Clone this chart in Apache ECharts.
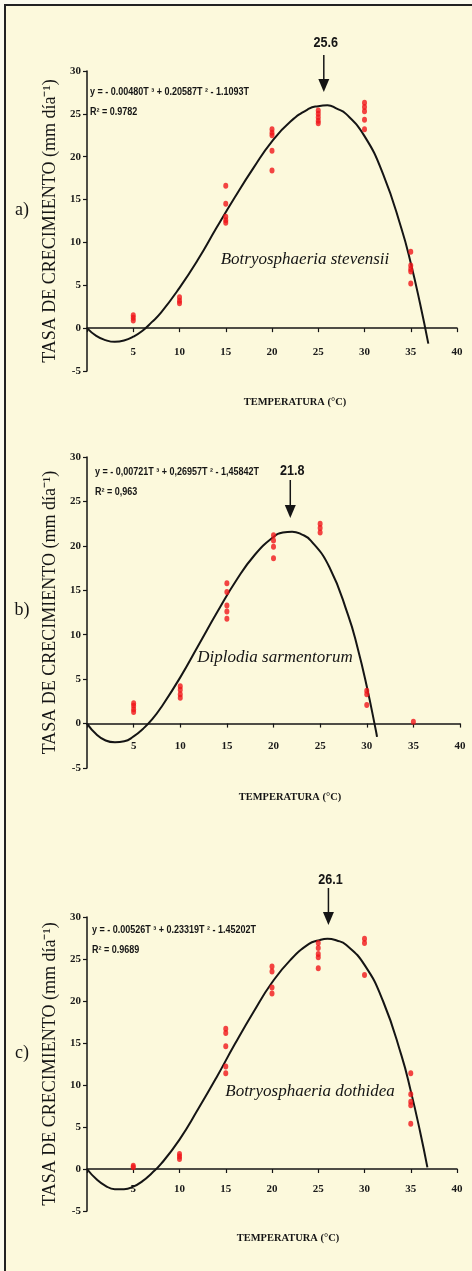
<!DOCTYPE html>
<html><head><meta charset="utf-8">
<script src="https://cdn.jsdelivr.net/npm/echarts@6/dist/echarts.min.js"></script>
<style>html,body{margin:0;padding:0;background:#fff}#c{width:472px;height:1271px}</style>
</head><body><div id="c"></div><script>
// ---- data ----
const xTicks = [0, 5, 10, 15, 20, 25, 30, 35, 40];
const yTicks = [-5, 0, 5, 10, 15, 20, 25, 30];

// Panel a) Botryosphaeria stevensii
const curveTA = [0,1,2,3,4,5,6,7,8,10,12,14,16,18,20,22,24,25,26,27,28,30,32,34,35,36,36.9];
const curveYA = [0,-0.9,-1.4,-1.6,-1.45,-1.0,-0.3,0.7,1.8,4.7,8.0,11.7,15.3,18.7,21.8,24.1,25.6,25.9,26.0,25.6,25.0,22.4,18.0,11.6,7.6,2.9,-1.8];
const obsTA = [5,5,5,10,10,10,15,15,15,15,15,20,20,20,20,20,25,25,25,25,25,30,30,30,30,30,35,35,35,35,35];
const obsYA = [0.9,1.2,1.5,2.9,3.2,3.6,16.6,14.5,13.0,12.6,12.3,23.2,22.8,22.5,20.7,18.4,25.4,25.0,24.6,24.2,23.9,26.3,25.8,25.3,24.3,23.2,8.9,7.3,6.9,6.6,5.2];

// Panel b) Diplodia sarmentorum
const curveTB = [0,1,2,3,4,5,6,7,8,10,12,14,16,18,20,21,22,23,24,26,28,29,30,31,31.1];
const curveYB = [0,-1.2,-1.9,-2.1,-2.0,-1.45,-0.6,0.5,1.9,5.2,8.9,12.6,16.1,19.0,21.0,21.5,21.6,21.3,20.6,17.6,12.2,8.6,4.2,-0.9,-1.5];
const obsTB = [5,5,5,5,10,10,10,10,15,15,15,15,15,20,20,20,20,25,25,25,30,30,30,35];
const obsYB = [1.3,1.6,2.0,2.3,2.9,3.3,3.8,4.2,15.8,14.8,13.3,12.6,11.8,21.2,20.6,19.9,18.6,22.5,22.0,21.5,3.7,3.3,2.1,0.2];

// Panel c) Botryosphaeria dothidea
const curveTC = [0,1,2,3,4,5,6,7,8,10,12,14,16,18,20,22,24,25,26,27,28,30,32,34,35,36,36.8];
const curveYC = [0,-1.2,-2.0,-2.4,-2.4,-2.1,-1.45,-0.5,0.6,3.5,7.1,10.9,14.9,18.7,22.2,24.9,26.8,27.2,27.4,27.2,26.7,24.3,20.0,13.5,9.3,4.5,0.2];
const obsTC = [5,5,10,10,10,15,15,15,15,15,20,20,20,20,25,25,25,25,25,30,30,30,35,35,35,35,35];
const obsYC = [0.2,0.4,1.2,1.5,1.8,16.7,16.2,14.6,12.2,11.4,24.1,23.5,21.6,20.9,26.9,26.3,25.6,25.2,23.9,27.4,26.9,23.1,11.4,8.9,8.0,7.6,5.4];

const peakT = [25.6, 21.8, 26.1];
const peakLabels = ['25.6', '21.8', '26.1'];
const panelLetters = ['a)', 'b)', 'c)'];
const species = ['Botryosphaeria stevensii', 'Diplodia sarmentorum', 'Botryosphaeria dothidea'];
const equations = [
  'y = - 0.00480T \u00B3 + 0.20587T \u00B2 - 1.1093T',
  'y = - 0,00721T \u00B3 + 0,26957T \u00B2 - 1,45842T',
  'y = - 0.00526T \u00B3 + 0.23319T \u00B2 - 1.45202T'
];
const r2 = ['R\u00B2 = 0.9782', 'R\u00B2 = 0,963', 'R\u00B2 = 0.9689'];
const xTitle = 'TEMPERATURA (\u00B0C)';
const yTitle = 'TASA DE CRECIMIENTO (mm d\u00EDa\u207B\u00B9)';

const curves = [[curveTA, curveYA], [curveTB, curveYB], [curveTC, curveYC]];
const obs = [[obsTA, obsYA], [obsTB, obsYB], [obsTC, obsYC]];

// ---- layout (pixels) ----
const layout = [
  {grid:{left:87,right:15,top:71,height:300}, lm:-24, letter:[22,210], eq:[90,92,112], xt:[295,402], sp:[305,260], lab:43, top:55, tip:92},
  {grid:{left:87,right:12,top:457,height:311}, lm:-27, letter:[22,610], eq:[95,472,492], xt:[290,797], sp:[275,658], lab:471, top:480, tip:518},
  {grid:{left:87,right:15,top:917,height:294}, lm:-27, letter:[22,1053], eq:[92,930,950], xt:[288,1238], sp:[310,1092], lab:880, top:888, tip:925}
];

const INK = '#151515';
const RED = '#f0161a';
const tickFont = {fontFamily:'Liberation Serif', fontWeight:'bold', fontSize:11, color:'#1a1a1a'};

const chart = echarts.init(document.getElementById('c'), null, {renderer:'canvas'});
const option = {
  animation:false,
  backgroundColor:'#fcf9dc',
  grid: layout.map(l => Object.assign({containLabel:false}, l.grid)),
  xAxis: layout.map((l,i) => ({
    type:'value', gridIndex:i, min:xTicks[0], max:xTicks[xTicks.length-1], interval:5,
    axisLine:{show:true, onZero:true, lineStyle:{color:INK, width:1.5}},
    axisTick:{show:true, length:4, lineStyle:{color:INK, width:1.2}},
    axisLabel:Object.assign({margin:l.lm, formatter:v => v===0 ? '' : String(v)}, tickFont),
    splitLine:{show:false}
  })),
  yAxis: layout.map((l,i) => ({
    type:'value', gridIndex:i, min:yTicks[0], max:yTicks[yTicks.length-1], interval:5,
    axisLine:{show:true, onZero:false, lineStyle:{color:INK, width:1.5}},
    axisTick:{show:true, length:4, lineStyle:{color:INK, width:1.2}},
    axisLabel:Object.assign({margin:6}, tickFont),
    splitLine:{show:false},
    name:yTitle, nameLocation:'middle', nameGap:28,
    nameTextStyle:{fontFamily:'Liberation Serif', fontSize:18, color:INK}
  })),
  series: []
};
curves.forEach((c,i) => {
  option.series.push({
    type:'line', xAxisIndex:i, yAxisIndex:i, smooth:true, showSymbol:false, symbol:'none',
    data:c[0].map((t,k) => [t, c[1][k]]),
    lineStyle:{color:INK, width:2}, z:3
  });
});
obs.forEach((o,i) => {
  option.series.push({
    type:'scatter', xAxisIndex:i, yAxisIndex:i, symbol:'circle', symbolSize:[5,6],
    data:o[0].map((t,k) => [t, o[1][k]]),
    itemStyle:{color:RED}, z:4
  });
});
chart.setOption(option);

// ---- annotations ----
function txt(x, y, text, font, align, scaleX, extra) {
  return Object.assign({
    type:'text', x:x, y:y, scaleX:scaleX||1, z:100,
    style:{text:text, font:font, fill:INK, align:align, verticalAlign:'middle', textAlign:align, textVerticalAlign:'middle'}
  }, extra||{});
}
const g = [];
// frame
g.push({type:'rect', shape:{x:0,y:0,width:472,height:4}, style:{fill:'#fbfbee'}, z:99});
g.push({type:'rect', shape:{x:0,y:0,width:4,height:1271}, style:{fill:'#fbfbee'}, z:99});
g.push({type:'line', shape:{x1:4,y1:5,x2:472,y2:5}, style:{stroke:'#222', lineWidth:2}, z:100});
g.push({type:'line', shape:{x1:5,y1:4,x2:5,y2:1271}, style:{stroke:'#222', lineWidth:2}, z:100});
layout.forEach((l,i) => {
  g.push(txt(l.letter[0], l.letter[1], panelLetters[i], '18px "Liberation Serif"', 'center'));
  g.push(txt(l.eq[0], l.eq[1], equations[i], 'bold 10px "Liberation Sans"', 'left', 0.9));
  g.push(txt(l.eq[0], l.eq[2], r2[i], 'bold 10px "Liberation Sans"', 'left', 0.9));
  g.push(txt(l.xt[0], l.xt[1], xTitle, 'bold 11px "Liberation Serif"', 'center', 0.95));
  g.push(txt(l.sp[0], l.sp[1], species[i], 'italic 17px "Liberation Serif"', 'center'));
  const px = chart.convertToPixel({gridIndex:i}, [peakT[i], 0])[0];
  g.push(txt(px + 2, l.lab, peakLabels[i], 'bold 14px "Liberation Sans"', 'center', 0.9));
  g.push({type:'line', shape:{x1:px, y1:l.top, x2:px, y2:l.tip - 10}, style:{stroke:INK, lineWidth:1.5}, z:100});
  g.push({type:'polygon', shape:{points:[[px-5.5, l.tip-13],[px+5.5, l.tip-13],[px, l.tip]]}, style:{fill:INK}, z:100});
});
chart.setOption({graphic:{elements:g}});
</script></body></html>
